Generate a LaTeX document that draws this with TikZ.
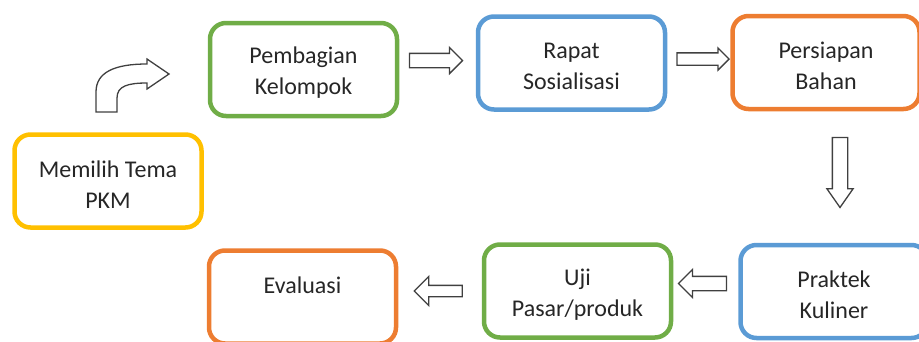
\documentclass[tikz,border=0pt]{standalone}
\usepackage{fontspec}
\setmainfont{Carlito}
\usetikzlibrary{shapes.arrows,positioning,calc}

\definecolor{kuning}{HTML}{FFC000}
\definecolor{hijau}{HTML}{70AD47}
\definecolor{biru}{HTML}{5B9BD5}
\definecolor{oranye}{HTML}{ED7D31}
\definecolor{garis}{HTML}{404040}
\newcommand{\turun}{\rule{0pt}{23pt}}

\begin{document}
\begin{tikzpicture}[x=1pt, y=-1pt,
    kotak/.style={draw, rounded corners=16pt, line width=4.5pt, minimum width=187pt, minimum height=93pt, align=center, text=black!85, font=\fontsize{24}{31}\selectfont},
    panah/.style={draw=garis, line width=1.3pt, fill=white, single arrow, single arrow head extend=6pt, inner xsep=0pt, inner ysep=6.5pt}]
    \useasboundingbox (0,0) rectangle (919,341);
    \clip (0,0) rectangle (919,341);

    % langkah-langkah
    \node[kotak, draw=kuning] (pkm) at (108,181) {\turun Memilih Tema\\PKM};
    \node[kotak, draw=hijau] (bagi) at (303.5,69.5) {\turun Pembagian\\Kelompok};
    \node[kotak, draw=biru] (rapat) at (571.5,63) {\turun Rapat\\Sosialisasi};
    \node[kotak, draw=oranye] (siap) at (826,62.5) {\turun Persiapan\\Bahan};
    \node[kotak, draw=biru] (praktek) at (834,291.5) {\turun Praktek\\Kuliner};
    \node[kotak, draw=hijau] (uji) at (577.5,291) {\turun Uji\\Pasar/produk};
    \node[kotak, draw=oranye] (eval) at (302.5,297) {\turun Evaluasi\\\mbox{}};

    % panah blok
    \node[panah, minimum height=53pt] (p1) at (432.5,60.5) {};
    \node[panah, minimum height=52pt, inner ysep=5.5pt, single arrow head extend=5pt] (p2) at (700,59) {};
    \node[panah, minimum height=70pt, inner ysep=7pt, single arrow head extend=5.5pt, single arrow tip angle=70, rotate=-90] (p3) at (840,167) {};
    \node[panah, minimum height=48pt, single arrow head extend=7pt, shape border rotate=180] (p4) at (706,283.5) {};
    \node[panah, minimum height=48pt, inner ysep=5pt, single arrow head extend=9pt, shape border rotate=180] (p5) at (441,291) {};

    % panah belok
    \draw[garis, line width=1.3pt, fill=white, line join=miter]
        (96,112) -- (96,92) .. controls (96,72) and (115,64) .. (147,64)
        -- (147,59) -- (169,74) -- (147,89) -- (147,83)
        .. controls (128,83) and (117,86) .. (117,98) -- (117,112) -- cycle;
\end{tikzpicture}
\end{document}
